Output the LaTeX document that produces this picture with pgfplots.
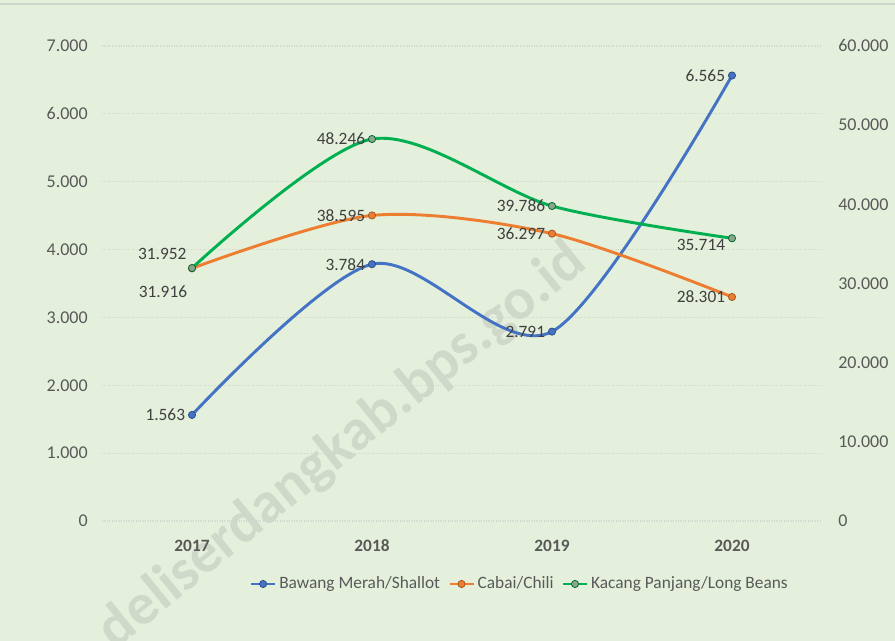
\documentclass[border=0pt]{standalone}
\usepackage{pgfplots}
\pgfplotsset{compat=1.18}
\usepackage{fontspec}
\setmainfont{Carlito}
\definecolor{bgc}{RGB}{228,240,220}
\definecolor{gridc}{RGB}{208,214,204}
\definecolor{txt}{RGB}{89,89,89}
\definecolor{lab}{RGB}{64,64,64}
\definecolor{cblue}{RGB}{68,114,196}
\definecolor{corange}{RGB}{237,125,49}
\definecolor{cgreen}{RGB}{0,176,80}
\definecolor{gmark}{RGB}{140,165,140}

\pgfplotsset{
  common/.style={
    scale only axis, width=540pt, height=356.25pt,
    at={(76.5pt,90pt)}, anchor=south west,
    xmin=-0.5, xmax=3.5,
    xtick={0,1,2,3},
    axis line style={draw=none},
    tick style={draw=none},
    /pgf/number format/.cd, 1000 sep={.}, assume math mode=true,
    /pgfplots/.cd,
    scaled ticks=false,
    tick label style={font=\fontsize{13.5}{16}\selectfont, text=txt},
  },
}
\tikzset{dl/.style={font=\fontsize{13}{15}\selectfont, text=lab, inner sep=0pt}}

\begin{document}
\begin{tikzpicture}
\useasboundingbox (0,0) rectangle (671.25pt,480.75pt);
\fill[bgc] (0,0) rectangle (671.25pt,480.75pt);
\draw[gridc, line width=0.8pt] (0,477.75pt) -- (671.25pt,477.75pt);
\node[rotate=39, text=gray, opacity=0.2, font=\fontsize{44}{52}\selectfont\bfseries] at (257pt,146pt) {deliserdangkab.bps.go.id};

\begin{axis}[common,
  ymin=0, ymax=7000, ytick={0,1000,...,7000},
  ymajorgrids, grid style={gridc, line width=0.8pt, densely dotted},
  xticklabels={2017,2018,2019,2020},
  xticklabel style={font=\fontsize{13}{15}\selectfont\bfseries, text=txt, anchor=north, inner sep=0pt, yshift=-14pt},
  yticklabel style={anchor=east, inner sep=0pt, xshift=-10.5pt},
]
\addplot[cblue, line width=2.2pt, smooth, mark=*, mark size=2.7pt,
  mark options={fill=cblue, draw=cblue!70!black, line width=0.6pt}]
  coordinates {(0,1563) (1,3784) (2,2791) (3,6565)};
\node[dl, anchor=east, xshift=-5pt] at (axis cs:0,1563) {1.563};
\node[dl, anchor=east, xshift=-5pt] at (axis cs:1,3784) {3.784};
\node[dl, anchor=east, xshift=-5pt] at (axis cs:2,2791) {2.791};
\node[dl, anchor=east, xshift=-5pt] at (axis cs:3,6565) {6.565};
\end{axis}

\begin{axis}[common,
  axis y line*=right, axis x line=none,
  ymin=0, ymax=60000, ytick={0,10000,...,60000},
  yticklabel style={anchor=west, inner sep=0pt, xshift=12pt},
  legend style={at={(0.5806,-0.1326)}, anchor=center, draw=none, fill=none,
    font=\fontsize{13}{15}\selectfont, text=txt, legend columns=-1,
    /tikz/every even column/.append style={column sep=4pt},
    inner sep=0pt},
  legend image code/.code={
    \draw[#1, mark=none] (0pt,0pt) -- (18pt,0pt);
    \draw[#1, only marks] plot coordinates {(9pt,0pt)};
  },
  legend cell align=left,
]
\addlegendimage{cblue, line width=2.2pt, mark=*, mark size=2.7pt, mark options={fill=cblue, draw=cblue!70!black, line width=0.6pt}}
\addlegendentry{Bawang Merah/Shallot}
\addplot[corange, line width=2.2pt, smooth, mark=*, mark size=2.7pt,
  mark options={fill=corange, draw=corange!70!black, line width=0.6pt}]
  coordinates {(0,31916) (1,38595) (2,36297) (3,28301)};
\addlegendentry{Cabai/Chili}
\addplot[cgreen, line width=2.2pt, smooth, mark=*, mark size=2.7pt,
  mark options={fill=gmark, draw=cgreen!60!black, line width=0.6pt}]
  coordinates {(0,31952) (1,48246) (2,39786) (3,35714)};
\addlegendentry{Kacang Panjang/Long Beans}
\node[dl, anchor=north east, xshift=-3.5pt, yshift=-13pt] at (axis cs:0,31916) {31.916};
\node[dl, anchor=east, xshift=-5pt] at (axis cs:1,38595) {38.595};
\node[dl, anchor=east, xshift=-5pt] at (axis cs:2,36297) {36.297};
\node[dl, anchor=east, xshift=-5pt] at (axis cs:3,28301) {28.301};
\node[dl, anchor=south east, xshift=-4pt, yshift=6pt] at (axis cs:0,31952) {31.952};
\node[dl, anchor=east, xshift=-5pt] at (axis cs:1,48246) {48.246};
\node[dl, anchor=east, xshift=-5pt] at (axis cs:2,39786) {39.786};
\node[dl, anchor=east, xshift=-5pt, yshift=-5pt] at (axis cs:3,35714) {35.714};
\end{axis}
\end{tikzpicture}
\end{document}
